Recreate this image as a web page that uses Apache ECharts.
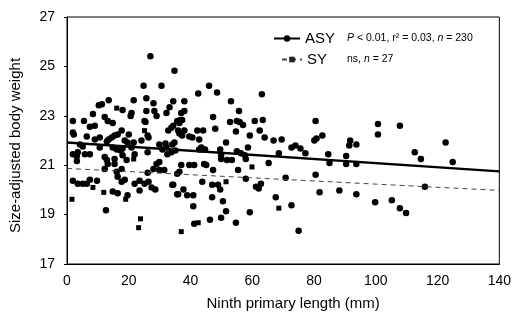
<!DOCTYPE html>
<html>
<head>
<meta charset="utf-8">
<script src="https://cdn.jsdelivr.net/npm/echarts@6/dist/echarts.min.js"></script>
<style>
html, body { margin: 0; padding: 0; background: #fff; }
#chart { width: 514px; height: 316px; }
</style>
</head>
<body>
<div id="chart"></div>
<script>
// ninth primary length (mm), size-adjusted body weight
var asyPoints = [
	[10.3,23.43],[11.3,23.47],[13.5,23.63],[18.0,23.23],[8.4,23.07],[12.2,22.95],[13.2,22.79],[14.8,22.71],
	[1.9,22.79],[5.5,22.79],[9.0,22.60],[7.4,22.56],[1.9,22.32],[2.2,22.24],[6.4,22.16],[9.0,22.04],
	[10.6,22.12],[17.7,22.40],[16.4,22.24],[15.4,22.20],[14.5,22.12],[13.5,22.04],[12.9,21.96],[4.2,21.84],
	[5.1,21.76],[10.6,21.72],[14.8,21.72],[16.1,21.64],[17.4,21.60],[18.0,21.68],[1.9,21.44],[3.2,21.37],
	[3.5,21.52],[5.8,21.44],[7.4,21.44],[12.2,21.33],[15.4,21.25],[18.0,21.40],[3.2,21.17],[13.2,21.05],
	[15.4,21.05],[12.9,21.21],[12.2,20.85],[17.7,20.85],[16.1,20.73],[16.4,20.53],[17.7,20.33],[18.7,20.41],
	[1.9,20.37],[3.5,20.25],[5.1,20.25],[6.4,20.25],[7.4,20.41],[9.7,20.37],[14.8,19.94],[16.4,19.86],
	[12.6,19.18],
	[34.8,24.82],[27.0,25.41],[24.8,24.22],[30.6,24.22],[21.6,23.63],[25.7,23.71],[28.0,23.51],[34.4,23.59],
	[33.2,23.35],[20.9,23.11],[20.6,22.99],[29.0,22.99],[25.7,23.19],[28.3,23.19],[32.2,23.11],[37.0,23.11],
	[25.1,22.79],[25.4,22.75],[35.7,22.79],[36.7,22.83],[36.4,22.71],[34.4,22.60],[33.8,22.52],[32.8,22.40],
	[26.4,22.12],[26.1,22.20],[24.1,22.00],[18.7,22.00],[19.6,21.92],[20.0,22.24],[21.6,21.92],[36.0,22.40],
	[36.4,22.28],[29.9,21.84],[31.9,21.88],[32.2,21.72],[30.9,21.64],[34.1,21.84],[20.9,21.72],[21.9,21.44],
	[26.1,21.52],[32.5,21.44],[33.8,21.52],[19.3,21.21],[29.0,21.05],[29.9,21.13],[28.0,20.85],[29.9,20.81],
	[31.5,20.81],[35.7,20.65],[26.1,20.69],[21.9,20.25],[23.5,20.37],[25.1,20.25],[26.4,20.33],[27.4,20.10],
	[28.6,20.02],[34.1,20.21],[19.6,19.78],[23.5,19.98],[35.7,19.82],
	[46.0,24.22],[42.5,23.90],[48.6,23.94],[63.1,23.87],[38.0,23.59],[53.1,23.59],[38.0,23.19],[55.7,23.19],
	[37.3,22.83],[47.3,22.95],[52.8,22.75],[55.0,22.79],[55.9,22.75],[60.8,22.79],[63.4,22.83],[48.0,22.48],
	[57.0,22.63],[62.4,22.40],[38.0,22.40],[37.3,22.20],[42.2,22.40],[44.1,22.40],[54.7,22.36],[39.6,22.16],
	[40.6,22.12],[42.8,22.04],[59.2,22.20],[64.0,22.12],[66.9,22.00],[69.5,22.04],[34.8,21.92],[51.5,21.92],
	[43.5,21.72],[43.8,21.64],[42.8,21.64],[44.7,21.64],[49.6,21.64],[58.6,21.72],[35.1,21.60],[49.9,21.40],
	[55.0,21.56],[56.3,21.48],[57.6,21.40],[51.8,21.21],[53.4,21.21],[57.9,21.25],[68.6,21.48],[37.0,21.01],
	[39.6,21.01],[41.2,21.01],[44.4,21.05],[45.1,21.01],[65.3,21.09],[49.9,21.25],[36.4,20.73],[47.3,20.81],
	[55.4,20.81],[57.9,20.45],[70.8,20.49],[34.4,20.21],[43.8,20.33],[47.0,20.21],[48.9,20.21],[49.6,20.02],
	[61.2,20.13],[62.1,20.06],[62.8,20.25],[37.7,20.02],[36.0,19.82],[38.9,19.78],[40.9,19.78],[47.0,19.70],
	[67.6,19.70],[40.9,19.34],[50.5,19.54],[51.5,19.14],[59.2,19.10],[49.9,18.87],[46.3,18.79],[54.7,18.67],
	[41.2,18.63],
	[80.5,22.79],[72.7,21.72],[74.0,21.80],[75.6,21.68],[77.2,21.48],[80.1,22.00],[80.8,22.08],[82.7,22.20],
	[84.6,21.44],[85.0,21.09],[90.4,21.37],[90.4,21.05],[93.7,21.05],[91.7,22.00],[91.4,21.80],[93.7,21.84],
	[100.7,22.67],[100.7,22.24],[107.8,22.60],[112.6,21.52],[114.6,21.25],[122.6,21.92],[124.9,21.13],[80.5,20.61],
	[81.8,19.90],[88.2,19.98],[93.7,19.82],[115.9,20.13],[72.7,19.38],[99.8,19.50],[105.2,19.58],[107.8,19.26],
	[109.8,19.06],[75.0,18.35]
];
var syPoints = [
	[16.1,23.31],[25.1,22.40],[21.6,21.25],[8.4,20.10],[1.6,19.62],[11.9,19.90],[19.0,19.62],
	[23.8,18.83],[23.2,18.47],[59.9,20.93],[51.5,20.33],[68.6,19.26],[42.5,18.67],[37.0,18.31]
];
// regression line end points
var asyFit = [[0, 21.92], [140, 20.75]];
var syFit = [[0, 20.87], [140, 19.98]];
var xTicks = [0, 20, 40, 60, 80, 100, 120, 140];
var yTicks = [17, 19, 21, 23, 25, 27];

var font = 'Arial, "Liberation Sans", Helvetica, sans-serif';
var myChart = echarts.init(document.getElementById('chart'), null, { renderer: 'canvas' });

var legendRich = {
	nm: { fontSize: 15, fontFamily: font, color: '#000', width: 42 },
	nm2: { fontSize: 15, fontFamily: font, color: '#000', width: 40 },
	it: { fontSize: 10.5, fontFamily: font, fontStyle: 'italic', color: '#000' },
	tx: { fontSize: 10.5, fontFamily: font, color: '#000' }
};

var option = {
	animation: false,
	backgroundColor: '#fff',
	grid: {
		left: 67, right: 12, top: 17, bottom: 47,
		show: true, borderColor: '#000', borderWidth: 1
	},
	legend: [{
		data: ['ASY'],
		left: 268, top: 26,
		itemWidth: 26, itemHeight: 8,
		itemGap: 0,
		textStyle: { rich: legendRich },
		formatter: function () {
			return '{nm|ASY}{it|P}{tx| < 0.01, r² = 0.03, }{it|n}{tx| = 230}';
		}
	}, {
		data: ['SY'],
		left: 276, top: 47,
		itemWidth: 20, itemHeight: 7,
		itemGap: 0,
		textStyle: { rich: legendRich },
		formatter: function () {
			return '{nm2|SY}{tx|ns, }{it|n}{tx| = 27}';
		}
	}],
	xAxis: {
		type: 'value',
		min: 0, max: 140, interval: 20,
		name: 'Ninth primary length (mm)',
		nameLocation: 'middle',
		nameGap: 32,
		nameTextStyle: { fontSize: 15, fontFamily: font, color: '#000', padding: [0, 0, 0, 20] },
		axisLine: { lineStyle: { color: '#000', width: 1 } },
		axisTick: { show: false },
		splitLine: { show: false },
		axisLabel: {
			fontSize: 14, fontFamily: font, color: '#000', margin: 10,
			formatter: function (v) { return xTicks.indexOf(v) >= 0 ? String(v) : ''; }
		}
	},
	yAxis: {
		type: 'value',
		min: 17, max: 27, interval: 2,
		name: 'Size-adjusted body weight',
		nameLocation: 'middle',
		nameGap: 44,
		nameTextStyle: { fontSize: 15, fontFamily: font, color: '#000', padding: [0, 10, 0, 0] },
		axisLine: { show: true, lineStyle: { color: '#000', width: 1 } },
		axisTick: { show: true, length: 3, lineStyle: { color: '#000' } },
		splitLine: { show: false },
		axisLabel: {
			fontSize: 14, fontFamily: font, color: '#000', margin: 12,
			formatter: function (v) { return yTicks.indexOf(v) >= 0 ? String(v) : ''; }
		}
	},
	series: [{
		name: 'SY points',
		type: 'scatter',
		symbol: 'rect',
		symbolSize: 5,
		itemStyle: { color: '#000', opacity: 1 },
		data: syPoints,
		z: 2
	}, {
		name: 'ASY points',
		type: 'scatter',
		symbol: 'circle',
		symbolSize: 6.5,
		itemStyle: { color: '#000', opacity: 1 },
		data: asyPoints,
		z: 3
	}, {
		name: 'SY',
		type: 'line',
		symbol: 'rect',
		symbolSize: 5,
		showSymbol: false,
		itemStyle: { color: '#222' },
		lineStyle: { color: '#444', width: 1, type: [5, 4] },
		data: syFit,
		z: 4
	}, {
		name: 'ASY',
		type: 'line',
		symbol: 'circle',
		symbolSize: 6,
		showSymbol: false,
		itemStyle: { color: '#000' },
		lineStyle: { color: '#000', width: 2.5 },
		data: asyFit,
		z: 5
	}]
};
myChart.setOption(option);
</script>
</body>
</html>
